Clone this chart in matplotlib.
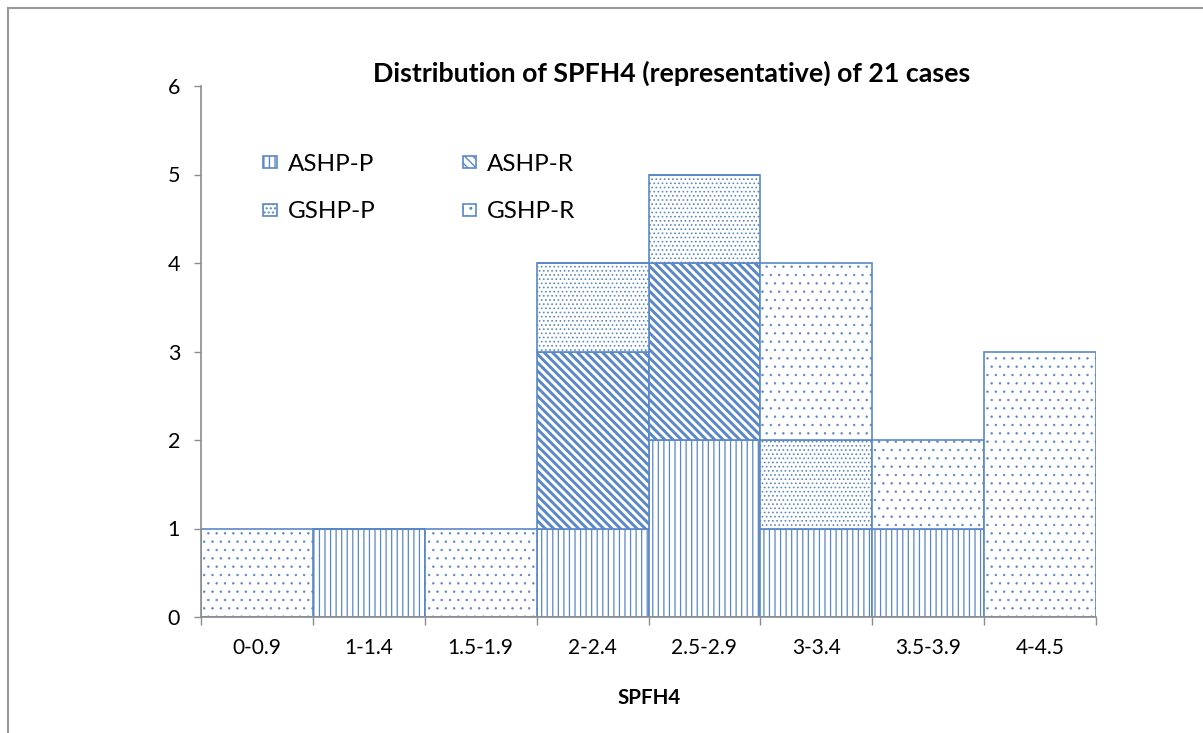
import matplotlib
matplotlib.use("Agg")
import matplotlib.pyplot as plt
from matplotlib.lines import Line2D
import numpy as np

categories = ["0-0.9", "1-1.4", "1.5-1.9", "2-2.4", "2.5-2.9", "3-3.4", "3.5-3.9", "4-4.5"]
series_names = ["ASHP-P", "ASHP-R", "GSHP-P", "GSHP-R"]
ashp_p = [0, 1, 0, 1, 2, 1, 1, 0]
ashp_r = [0, 0, 0, 2, 2, 0, 0, 0]
gshp_p = [0, 0, 0, 1, 1, 1, 0, 0]
gshp_r = [1, 0, 1, 0, 0, 2, 1, 3]
y_ticks = [0, 1, 2, 3, 4, 5, 6]
title = "Distribution of SPFH4 (representative) of 21 cases"
x_label = "SPFH4"

plt.rcParams['font.family'] = ['Lato', 'DejaVu Sans']

BLUE = "#5A87C6"
GRAY = "#8C8C8C"
BS = chr(92)
hatches = ["|||", BS * 4, "....", ".."]
hatch_lw = [0.9, 2.1, 0.7, 0.5]
hatch_cols = ["#6F97D0", "#4F7FC2", "#7FA3D6", "#7FA3D6"]

fig = plt.figure(figsize=(12.03, 7.33), dpi=100)
ax = fig.add_axes([201/1203, 1-617/733, (1096-201)/1203, (617-86)/733])

x = np.arange(len(categories))
bottom = np.zeros(len(categories))
handles = []
for name, vals, h, hl, hc in zip(series_names, [ashp_p, ashp_r, gshp_p, gshp_r], hatches, hatch_lw, hatch_cols):
    vals = np.array(vals, dtype=float)
    bars = ax.bar(x, vals, width=1.0, bottom=bottom, facecolor="white",
                  edgecolor=BLUE, linewidth=1.2, hatch=h, label=name)
    for p in bars.patches:
        try:
            p.set_hatch_linewidth(hl)
        except AttributeError:
            pass
        try:
            p.set_hatchcolor(hc)
        except AttributeError:
            pass
    handles.append(bars)
    bottom += vals

ax.set_xlim(-0.5, len(categories) - 0.5)
ax.set_ylim(0, 6)
ax.set_yticks(y_ticks)
ax.set_yticklabels([str(t) for t in y_ticks], fontsize=15.5)
ax.tick_params(axis='y', length=5, width=1, color=GRAY, pad=10)

ax.set_xticks(x)
ax.set_xticklabels(categories, fontsize=15)
ax.tick_params(axis='x', which='major', length=0, pad=15)
ax.set_xticks(np.arange(len(categories) + 1) - 0.5, minor=True)
ax.tick_params(axis='x', which='minor', length=6, width=1, color=GRAY)

for s in ["top", "right"]:
    ax.spines[s].set_visible(False)
for s in ["left", "bottom"]:
    ax.spines[s].set_color(GRAY)
    ax.spines[s].set_linewidth(1.2)

order = [0, 2, 1, 3]
leg = ax.legend([handles[i] for i in order], [series_names[i] for i in order],
                ncol=2, loc="upper left", bbox_to_anchor=(0.0448, 0.913),
                frameon=False, fontsize=17.5, handlelength=0.57, handleheight=0.38,
                handletextpad=0.45, columnspacing=3.58, labelspacing=1.08)

fig.text(0.5586, 1-73/733, title, ha="center", va="center", fontsize=19.3, fontweight="bold")
fig.text(649/1203, 1-698/733, x_label, ha="center", va="center", fontsize=14.8, fontweight="bold")

fig.add_artist(Line2D([8/1203, 8/1203], [0, 1-8/733], color="#999999", linewidth=1.5))
fig.add_artist(Line2D([8/1203, 1], [1-8/733, 1-8/733], color="#999999", linewidth=1.5))

fig.savefig("out.png", dpi=100)
